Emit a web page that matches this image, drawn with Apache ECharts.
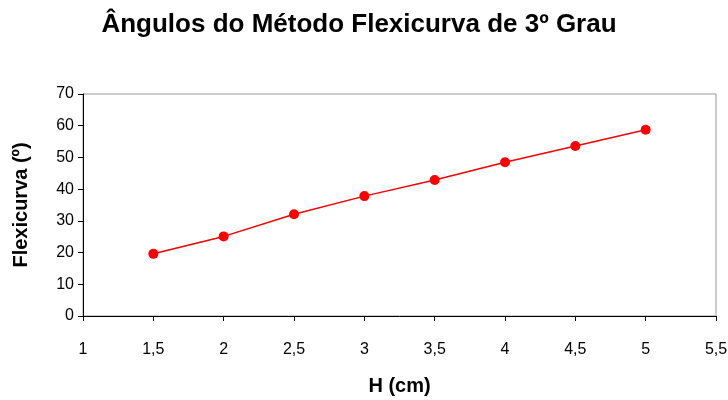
<!DOCTYPE html>
<html>
<head>
<meta charset="utf-8">
<script src="https://cdn.jsdelivr.net/npm/echarts@6/dist/echarts.min.js"></script>
<style>html,body{margin:0;padding:0;background:#fff}#c{width:728px;height:400px}</style>
</head>
<body>
<div id="c"></div>
<script>
var titleText = 'Ângulos do Método Flexicurva de 3º Grau';
var xName = 'H (cm)';
var yName = 'Flexicurva (º)';
var hValues = [1.5, 2, 2.5, 3, 3.5, 4, 4.5, 5];
var flexValues = [19.6, 25.1, 32.1, 37.8, 42.9, 48.5, 53.6, 58.7];

var chart = echarts.init(document.getElementById('c'));
var font = '"Liberation Sans", Arial, sans-serif';
chart.setOption({
  animation: false,
  backgroundColor: '#fff',
  title: {
    text: titleText, left: 354, top: 7, textAlign: 'center',
    textStyle: {fontFamily: font, fontSize: 26, fontWeight: 'bold', color: '#000'}
  },
  grid: {left: 83, right: 12, top: 94, bottom: 84, show: true, borderColor: '#999', borderWidth: 1,
    containLabel: false, outerBoundsMode: 'none'},
  xAxis: {
    type: 'value', min: 1, max: 5.5, interval: 0.5,
    name: xName, nameLocation: 'middle', nameGap: 60,
    nameTextStyle: {fontFamily: font, fontSize: 20, fontWeight: 'bold', color: '#000'},
    axisLine: {show: true, lineStyle: {color: '#000', width: 1}},
    axisTick: {show: true, length: 5, lineStyle: {color: '#000'}},
    axisLabel: {fontFamily: font, fontSize: 16, color: '#000', margin: 26,
      formatter: function (v) { return String(v).replace('.', ','); }},
    splitLine: {show: false}
  },
  yAxis: {
    type: 'value', min: 0, max: 70, interval: 10,
    name: yName, nameLocation: 'middle', nameGap: 52, nameRotate: 90,
    nameTextStyle: {fontFamily: font, fontSize: 20, fontWeight: 'bold', color: '#000'},
    axisLine: {show: true, lineStyle: {color: '#000', width: 1}},
    axisTick: {show: true, length: 5, lineStyle: {color: '#000'}},
    axisLabel: {fontFamily: font, fontSize: 16, color: '#000', margin: 9},
    splitLine: {show: false}
  },
  series: [{
    type: 'line',
    data: hValues.map(function (h, i) { return [h, flexValues[i]]; }),
    lineStyle: {color: '#ff0000', width: 1.5},
    itemStyle: {color: '#ff0000'},
    symbol: 'circle', symbolSize: 10
  }]
});
</script>
</body>
</html>
